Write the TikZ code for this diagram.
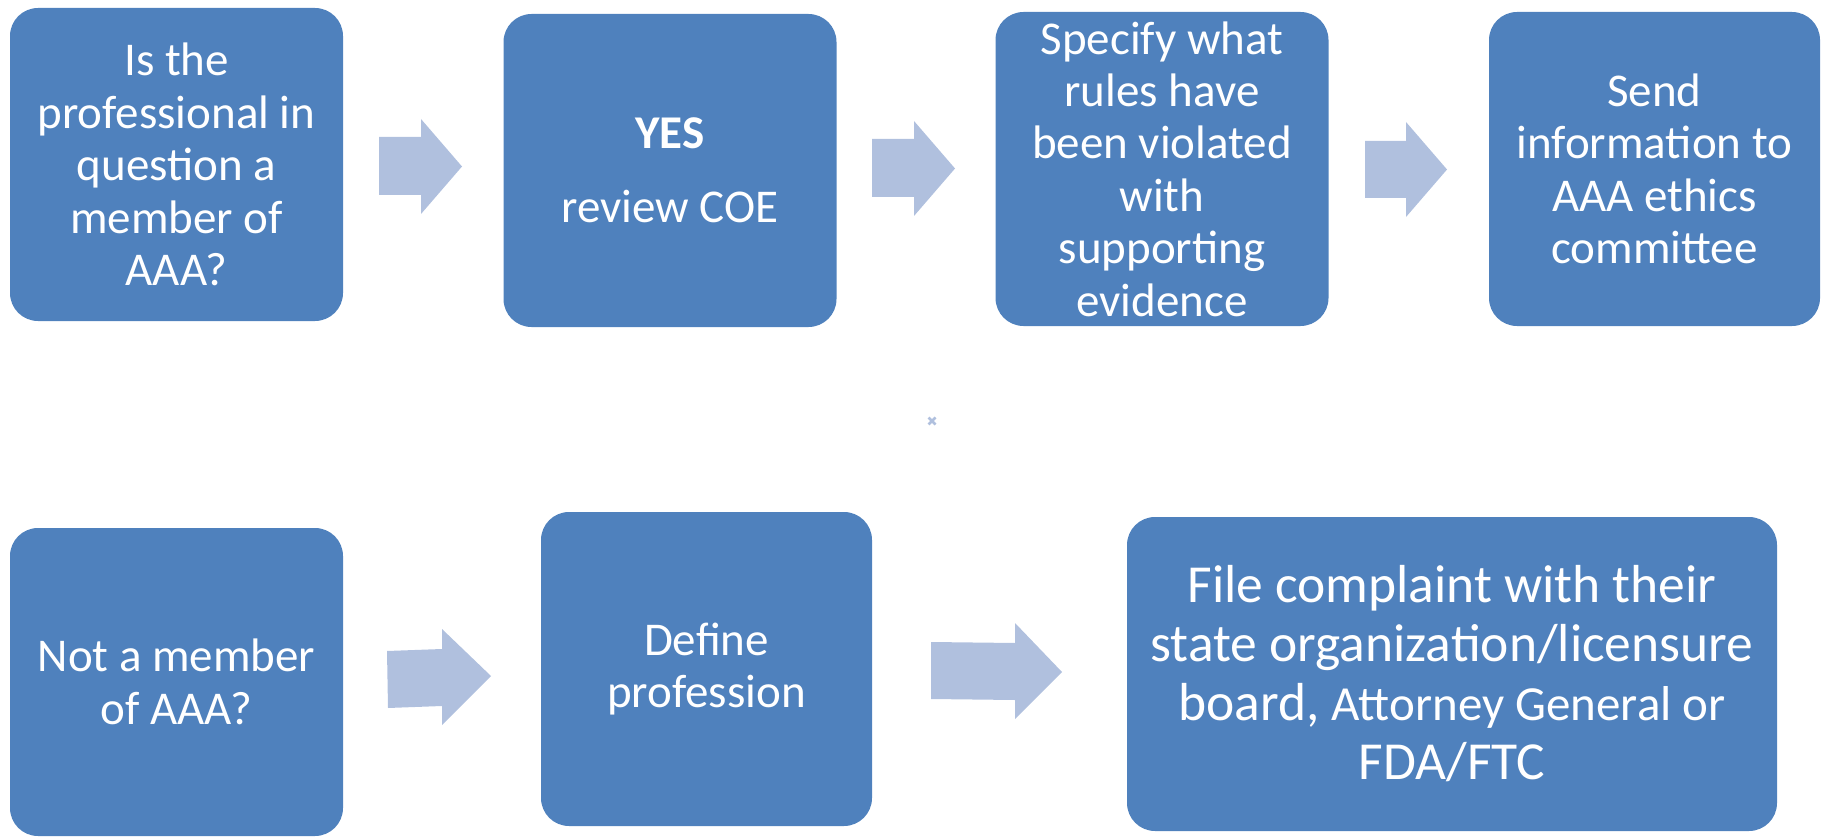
\documentclass[tikz,border=0pt]{standalone}
\usepackage{fontspec}
\setmainfont{Carlito}
\definecolor{boxblue}{RGB}{79,129,189}
\definecolor{arrowblue}{RGB}{176,192,222}
\begin{document}
\begin{tikzpicture}[x=1pt,y=-1pt,
  box/.style={fill=boxblue, draw=none, rounded corners=28pt, text=white,
    align=center, inner sep=0pt, minimum width=333pt,
    font=\fontsize{47}{52.4}\selectfont},
  bigbox/.style={box, font=\fontsize{53.5}{59}\selectfont},
  blockarrow/.style={fill=arrowblue, draw=none}]
\useasboundingbox (0,0) rectangle (1825,837);

% top row
\node[box, minimum height=313pt] (b1) at (176.5,164.5)
  {Is the\\professional in\\question a\\member of\\AAA?};
\node[box, minimum height=313pt] (b2) at (670,170.5)
  {\textbf{YES}\\[22pt]review COE};
\node[box, minimum height=314pt] (b3) at (1162,169)
  {Specify what\\rules have\\been violated\\with\\supporting\\evidence};
\node[box, minimum height=314pt, minimum width=331pt] (b4) at (1654.5,169)
  {Send\\information to\\AAA ethics\\committee};

% bottom row
\node[box, minimum height=308pt] (b5) at (176.5,682)
  {Not a member\\of AAA?};
\node[box, minimum height=314pt, minimum width=331pt] (b6) at (706.5,669)
  {Define\\profession};
\node[bigbox, minimum height=314pt, minimum width=650pt] (b7) at (1452,674)
  {File complaint with their\\state organization/licensure\\board, {\fontsize{49}{59}\selectfont Attorney General or}\\FDA/FTC};

% block arrows
\fill[blockarrow] (379,137) -- (421,137) -- (421,119) -- (462,166.5) -- (421,214) -- (421,195) -- (379,195) -- cycle;
\fill[blockarrow] (872,139) -- (914,139) -- (914,121) -- (955,168.5) -- (914,216) -- (914,197) -- (872,197) -- cycle;
\fill[blockarrow] (1365,141) -- (1406,141) -- (1406,122) -- (1447,169.5) -- (1406,217) -- (1406,198) -- (1365,198) -- cycle;
\fill[blockarrow] (387,651) -- (442,649) -- (442,629) -- (491,676) -- (442,725) -- (442,706) -- (388,708) -- cycle;
\fill[blockarrow] (931,642) -- (1015,643) -- (1015,623) -- (1062,672) -- (1015,719) -- (1015,700) -- (931,699) -- cycle;

% tiny mark
\draw[arrowblue, line width=2.5pt] (928.5,417.5) -- (935.5,424.5) (928.5,424.5) -- (935.5,417.5);
\end{tikzpicture}
\end{document}
